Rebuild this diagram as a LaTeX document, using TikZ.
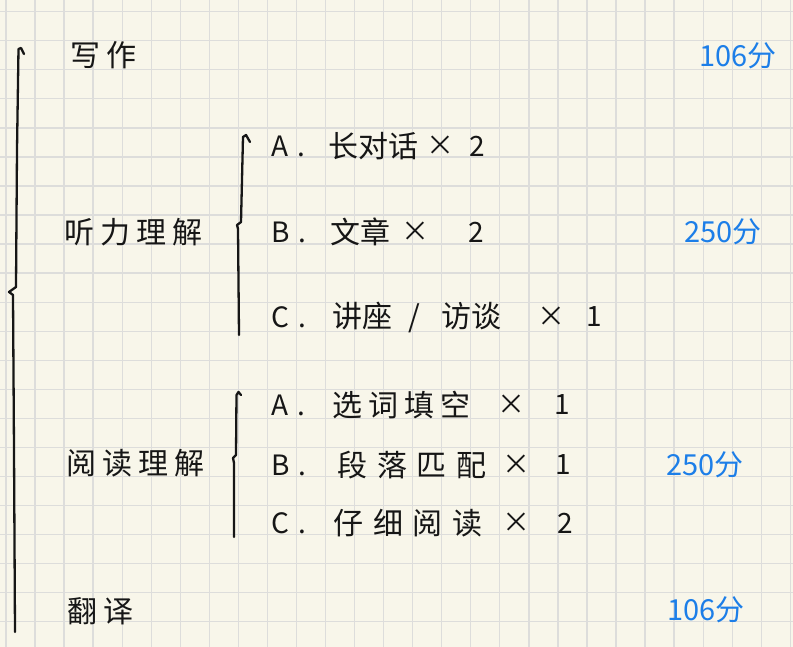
\documentclass[tikz,border=0pt]{standalone}
\usepackage{fontspec}
\newfontfamily\hand{Noto Sans CJK SC}
\definecolor{paper}{RGB}{248,246,234}
\definecolor{gridgray}{RGB}{221,221,219}
\definecolor{ink}{RGB}{22,22,22}
\definecolor{scoreblue}{RGB}{28,126,232}

% one row of a section: name, y, letter, x of text, text, x of times, x of count, count
\newcommand\partrow[8]{%
  \node[itemtext] (#1tag) at (271,#2) {#3\hspace{9pt}.};
  \node[itemname] (#1name) at (#4,#2) {#5};
  \node[itemtext, anchor=center] (#1times) at (#6,#2) {×};
  \node[itemtext, anchor=center] (#1count) at (#7,#2) {#8};
}

\begin{document}
\begin{tikzpicture}[x=1pt, y=-1pt,
  gridline/.style={draw=gridgray, line width=1.3pt},
  brace/.style={draw=ink, line width=2.3pt, line join=round, line cap=round},
  topic/.style={font=\hand\fontsize{30}{30}\selectfont\addfontfeature{LetterSpace=20},
    text=ink, anchor=west, inner sep=0pt},
  itemtext/.style={font=\hand\fontsize{28}{28}\selectfont, text=ink, anchor=west, inner sep=0pt},
  itemname/.style={font=\hand\fontsize{30}{30}\selectfont, text=ink, anchor=west, inner sep=0pt},
  score/.style={font=\hand\fontsize{29}{29}\selectfont, text=scoreblue, anchor=west, inner sep=0pt}]
\fill[paper] (0,0) rectangle (793,647);
\useasboundingbox (0,0) rectangle (793,647);
% ---- squared paper
\foreach \i in {0,...,27} \draw[gridline] ({5.95+29.05*\i},0) -- ++(0,647);
\foreach \j in {0,...,21} \draw[gridline] (0,{11.7+29.05*\j}) -- ++(793,0);
% ---- braces
\draw[brace] (24,54) -- (21,48) -- (18.5,49) -- (17,150) -- (16,287) -- (9,292)
  -- (13,295) -- (14,450) -- (15,632);
\draw[brace] (250,142) -- (246,135) -- (243,137) -- (241,222) -- (237,225)
  -- (238,229) -- (239,335);
\draw[brace] (241,395) -- (238.5,392) -- (236.5,395) -- (236,455) -- (233,458)
  -- (234,463) -- (234,537);
% ---- sections
\node[topic] (writing) at (70,55) {写作};
\node[topic] (listening) at (64,232) {听力理解};
\node[topic] (reading) at (66,463) {阅读理解};
\node[topic] (translation) at (67,611) {翻译};
% ---- parts
\partrow{la}{146}{A}{328}{长对话}{440}{477}{2}
\partrow{lb}{232}{B}{330}{文章}{415}{476}{2}
\partrow{lc}{317}{C}{332}{讲座\hspace{16pt}/\hspace{22pt}访谈}{551}{594}{1}
\partrow{ra}{405}{A}{332}{{\addfontfeature{LetterSpace=20}选词填空}}{511}{562}{1}
\partrow{rb}{465}{B}{337}{{\addfontfeature{LetterSpace=33}段落匹配}}{516}{563}{1}
\partrow{rc}{523}{C}{333}{{\addfontfeature{LetterSpace=33}仔细阅读}}{516}{565}{2}
% ---- points
\node[score] (writingpts) at (699,56) {106分};
\node[score] (listeningpts) at (684,232) {250分};
\node[score] (readingpts) at (666,465) {250分};
\node[score] (translationpts) at (667,610) {106分};
\end{tikzpicture}
\end{document}
